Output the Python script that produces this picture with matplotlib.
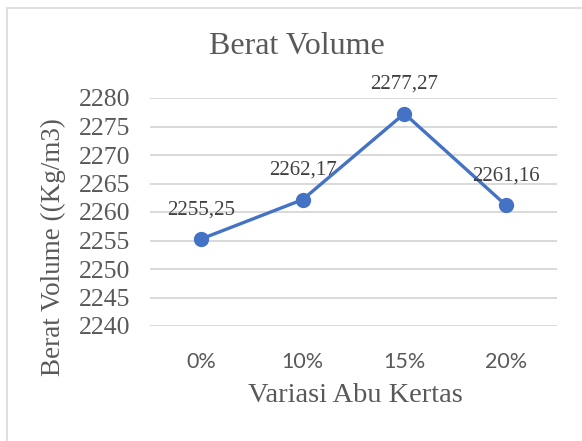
import matplotlib.pyplot as plt
from matplotlib.patches import Rectangle

# data
kategori = ['0%', '10%', '15%', '20%']
berat_volume = [2255.25, 2262.17, 2277.27, 2261.16]
label_nilai = ['2255,25', '2262,17', '2277,27', '2261,16']
yticks = [2240, 2245, 2250, 2255, 2260, 2265, 2270, 2275, 2280]

serif = 'Liberation Serif'
teks = '#595959'

fig = plt.figure(figsize=(5.82, 4.41), dpi=100)
ax = fig.add_axes([150/582, 1-326/441, 407/582, 228/441])

# bingkai chart (sebagian terpotong seperti aslinya)
fig.patches.append(Rectangle((7/582, -0.1), 1.2, 1-8/441+0.1, transform=fig.transFigure,
                             fill=False, edgecolor='#D9D9D9', linewidth=1.2))

x = range(len(kategori))
ax.plot(x, berat_volume, color='#4472C4', linewidth=2.4, marker='o', markersize=10, zorder=3)

for i, (v, lbl) in enumerate(zip(berat_volume, label_nilai)):
    ax.annotate(lbl, (i, v), xytext=(0, 21), textcoords='offset points',
                ha='center', va='center', fontsize=15, family=serif, color='#404040')

ax.set_xlim(-0.5, 3.5)
ax.set_ylim(2240, 2280)
ax.set_yticks(yticks)
ax.set_yticklabels([str(t) for t in yticks], family=serif, fontsize=18.5, color=teks)
ax.set_xticks(list(x))
ax.set_xticklabels(kategori, family='Lato', fontsize=15.5, color=teks)
ax.tick_params(length=0)
ax.tick_params(axis='y', pad=14)
ax.tick_params(axis='x', pad=19)
ax.grid(axis='y', color='#D9D9D9', linewidth=1.4)
ax.set_axisbelow(True)
for s in ax.spines.values():
    s.set_visible(False)

fig.text(297/582, 1-47/441, 'Berat Volume', ha='center', va='center',
         family=serif, fontsize=23, color=teks)
fig.text(355/582, 1-396/441, 'Variasi Abu Kertas', ha='center', va='center',
         family=serif, fontsize=20.5, color=teks)
fig.text(53/582, 1-247/441, 'Berat Volume ((Kg/m3)', ha='center', va='center',
         rotation=90, family=serif, fontsize=19.5, color=teks)

fig.savefig('out.png', dpi=100)
